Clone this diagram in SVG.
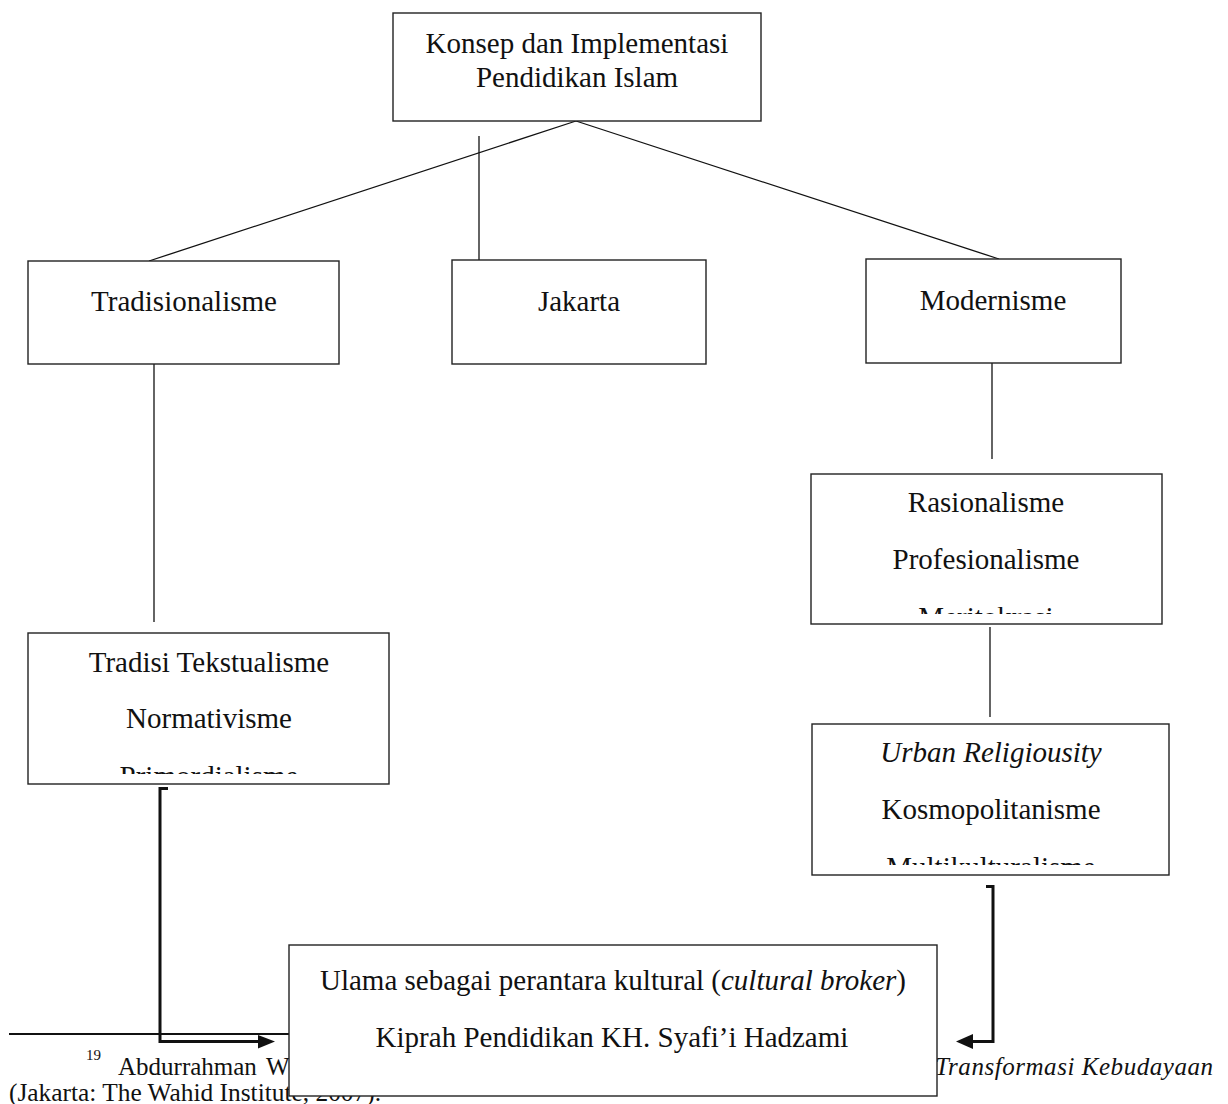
<svg xmlns="http://www.w3.org/2000/svg" width="1228" height="1104" viewBox="0 0 1228 1104">
<style>
.box{fill:#fff;stroke:#222;stroke-width:1.4}
.t{font-family:"Liberation Serif","Times New Roman",serif;font-size:29px;fill:#111;text-anchor:middle}
.fn{font-family:"Liberation Serif","Times New Roman",serif;font-size:25px;fill:#111}
.sup{font-family:"Liberation Serif","Times New Roman",serif;font-size:15px;fill:#111}
.ln{stroke:#111;stroke-width:1.3;fill:none}
.br{stroke:#111;stroke-width:3;fill:none}
</style>
<defs>
<clipPath id="c1"><rect x="28" y="634" width="361" height="140"/></clipPath>
<clipPath id="c2"><rect x="811" y="474" width="351" height="140"/></clipPath>
<clipPath id="c3"><rect x="812" y="724" width="357" height="141"/></clipPath>
</defs>
<rect width="1228" height="1104" fill="#fff"/>
<g id="footnote">
<line x1="9" y1="1034" x2="420" y2="1034" stroke="#111" stroke-width="2"/>
<text class="sup" x="86" y="1060">19</text>
<text class="fn" y="1075"><tspan x="118">Abdurrahman</tspan><tspan x="266">W</tspan></text>
<text class="fn" x="1213" y="1075" text-anchor="end" font-style="italic" textLength="278" lengthAdjust="spacing">Transformasi  Kebudayaan</text>
<text class="fn" x="9" y="1101" textLength="372" lengthAdjust="spacingAndGlyphs">(Jakarta: The Wahid Institute, 2007).</text>
</g>
<g id="connectors">
<line class="ln" x1="576" y1="121" x2="149" y2="261"/>
<line class="ln" x1="576" y1="121" x2="999" y2="259"/>
<line class="ln" x1="479" y1="136" x2="479" y2="260"/>
<line class="ln" x1="154" y1="364" x2="154" y2="622"/>
<line class="ln" x1="992" y1="363" x2="992" y2="459"/>
<line class="ln" x1="990" y1="627" x2="990" y2="717"/>
<path class="br" d="M168 788.5 H160 V1041.5 H260"/>
<polygon points="258,1035 275,1041.5 258,1048.5" fill="#111"/>
<path class="br" d="M986 886.5 H993 V1041.5 H970"/>
<polygon points="973,1034 956,1041.5 973,1049" fill="#111"/>
</g>
<g id="n-konsep">
<rect class="box" x="393" y="13" width="368" height="108"/>
<text class="t" x="577" y="53">Konsep dan Implementasi</text>
<text class="t" x="577" y="87">Pendidikan Islam</text>
</g>
<g id="n-tradisionalisme">
<rect class="box" x="28" y="261" width="311" height="103"/>
<text class="t" x="184" y="311">Tradisionalisme</text>
</g>
<g id="n-jakarta">
<rect class="box" x="452" y="260" width="254" height="104"/>
<text class="t" x="579" y="311">Jakarta</text>
</g>
<g id="n-modernisme">
<rect class="box" x="866" y="259" width="255" height="104"/>
<text class="t" x="993" y="310">Modernisme</text>
</g>
<g id="n-tradisi">
<rect class="box" x="28" y="633" width="361" height="151"/>
<text class="t" x="209" y="672">Tradisi Tekstualisme</text>
<text class="t" x="209" y="728">Normativisme</text>
<text class="t" x="209" y="786" clip-path="url(#c1)">Primordialisme</text>
</g>
<g id="n-rasionalisme">
<rect class="box" x="811" y="474" width="351" height="150"/>
<text class="t" x="986" y="512">Rasionalisme</text>
<text class="t" x="986" y="569">Profesionalisme</text>
<text class="t" x="986" y="627" clip-path="url(#c2)">Meritokrasi</text>
</g>
<g id="n-urban">
<rect class="box" x="812" y="724" width="357" height="151"/>
<text class="t" x="991" y="762" font-style="italic">Urban Religiousity</text>
<text class="t" x="991" y="819">Kosmopolitanisme</text>
<text class="t" x="991" y="877" clip-path="url(#c3)">Multikulturalisme</text>
</g>
<g id="n-ulama">
<rect class="box" x="289" y="945" width="648" height="151"/>
<text class="t" x="613" y="990">Ulama sebagai perantara kultural (<tspan font-style="italic">cultural broker</tspan>)</text>
<text class="t" x="612" y="1047">Kiprah Pendidikan KH. Syafi’i Hadzami</text>
</g>
</svg>
